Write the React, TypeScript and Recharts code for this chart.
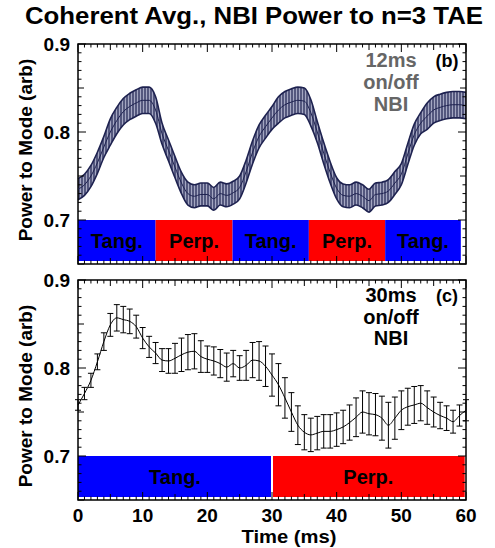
import { ComposedChart, Area, Line, ErrorBar, XAxis, YAxis, ReferenceArea, ReferenceLine } from 'recharts'

const FONT = '"Liberation Sans", Arial, Helvetica, sans-serif'
const NAVY = '#1e2250'
const BLUE = '#0000ff'
const RED = '#ff0000'

const PLOT_W = 388
const PLOT_H = 220

// time axis (ms) and tick positions
const times = Array.from({ length: 61 }, (_, i) => i)
const xTicks = Array.from({ length: 61 }, (_, i) => i)
const xLabels = [0, 10, 20, 30, 40, 50, 60]
const yTicks = Array.from({ length: 26 }, (_, i) => +(0.65 + i * 0.01).toFixed(2))
const yLabels = [0.7, 0.8, 0.9]

// panel (b): 12ms on/off
const topMid = [
  0.735, 0.74, 0.75, 0.765, 0.783, 0.8, 0.813, 0.823, 0.829, 0.833,
  0.836, 0.836, 0.825, 0.798, 0.779, 0.76, 0.742, 0.73, 0.727, 0.729,
  0.729, 0.724, 0.73, 0.728, 0.731, 0.737, 0.755, 0.777, 0.795, 0.806,
  0.816, 0.825, 0.831, 0.834, 0.836, 0.835, 0.822, 0.8, 0.776, 0.754,
  0.736, 0.728, 0.727, 0.73, 0.727, 0.722, 0.729, 0.73, 0.733, 0.742,
  0.752, 0.775, 0.797, 0.81, 0.818, 0.825, 0.828, 0.83, 0.831, 0.831,
  0.83,
]
const topErr = [
  0.012, 0.012, 0.012, 0.012, 0.012, 0.015, 0.015, 0.015, 0.015, 0.015,
  0.015, 0.015, 0.015, 0.012, 0.012, 0.012, 0.012, 0.013, 0.013, 0.013,
  0.013, 0.013, 0.013, 0.013, 0.013, 0.013, 0.013, 0.013, 0.013, 0.013,
  0.013, 0.015, 0.015, 0.015, 0.015, 0.015, 0.015, 0.012, 0.012, 0.012,
  0.012, 0.013, 0.013, 0.013, 0.013, 0.013, 0.013, 0.013, 0.013, 0.013,
  0.012, 0.012, 0.012, 0.012, 0.015, 0.015, 0.015, 0.015, 0.015, 0.015,
  0.015,
]
const topBeams = [
  { from: 0, to: 12, name: 'Tang.', color: BLUE },
  { from: 12, to: 23.9, name: 'Perp.', color: RED },
  { from: 23.9, to: 35.7, name: 'Tang.', color: BLUE },
  { from: 35.7, to: 47.5, name: 'Perp.', color: RED },
  { from: 47.5, to: 59.2, name: 'Tang.', color: BLUE },
]

// panel (c): 30ms on/off
const botMid = [
  0.758, 0.771, 0.786, 0.807, 0.83, 0.849, 0.857, 0.855, 0.853, 0.847,
  0.834, 0.824, 0.817, 0.809, 0.808, 0.811, 0.815, 0.818, 0.819, 0.813,
  0.81, 0.808, 0.805, 0.801, 0.805, 0.8, 0.803, 0.809, 0.808, 0.802,
  0.792, 0.781, 0.766, 0.75, 0.735, 0.727, 0.724, 0.726, 0.728, 0.728,
  0.73, 0.733, 0.738, 0.744, 0.75, 0.748, 0.747, 0.743, 0.735, 0.743,
  0.752, 0.756, 0.758, 0.76, 0.755, 0.75, 0.746, 0.743, 0.739, 0.746,
  0.752,
]
const botErr = [
  0.006, 0.007, 0.008, 0.009, 0.01, 0.013, 0.015, 0.015, 0.014, 0.013,
  0.012, 0.012, 0.012, 0.013, 0.014, 0.017, 0.019, 0.02, 0.02, 0.018,
  0.015, 0.016, 0.016, 0.016, 0.015, 0.014, 0.017, 0.02, 0.022, 0.023,
  0.024, 0.024, 0.023, 0.022, 0.022, 0.02, 0.019, 0.019, 0.019, 0.019,
  0.019, 0.019, 0.02, 0.022, 0.024, 0.024, 0.024, 0.025, 0.026, 0.024,
  0.022, 0.021, 0.021, 0.02, 0.019, 0.017, 0.015, 0.014, 0.013, 0.012,
  0.012,
]
const botBeams = [
  { from: 0, to: 30, name: 'Tang.', color: BLUE },
  { from: 30, to: 59.8, name: 'Perp.', color: RED },
]

const topData = times.map((t, i) => ({
  t,
  mid: topMid[i],
  band: [topMid[i] - topErr[i], topMid[i] + topErr[i]],
}))
const botData = times.map((t, i) => ({ t, mid: botMid[i], err: botErr[i] }))

function yLen(v: number) {
  const k = Math.round(v * 100)
  if (k % 10 === 0) return 8
  if (k % 5 === 0) return 6
  return 3.5
}
function xLen(v: number) {
  const k = Math.round(v)
  if (k % 10 === 0) return 8
  if (k % 5 === 0) return 6
  return 3.5
}

function LeftTick({ x, y, payload }: any) {
  const v = payload.value
  const len = yLen(v)
  const lab = yLabels.some((l) => Math.abs(l - v) < 1e-6)
  return (
    <g>
      <line x1={x} x2={x + len} y1={y} y2={y} stroke="#000" strokeWidth={1} />
      <line x1={x + PLOT_W} x2={x + PLOT_W - len} y1={y} y2={y} stroke="#000" strokeWidth={1} />
      {lab && (
        <text x={x - 8} y={y + 7} textAnchor="end" fontSize={19} fontWeight="bold" fill="#000" fontFamily={FONT}>
          {v.toFixed(1)}
        </text>
      )}
    </g>
  )
}

function makeBottomTick(showLabels: boolean) {
  return function BottomTick({ x, y, payload }: any) {
    const v = payload.value
    const len = xLen(v)
    return (
      <g>
        <line x1={x} x2={x} y1={y} y2={y - len} stroke="#000" strokeWidth={1} />
        <line x1={x} x2={x} y1={y - PLOT_H} y2={y - PLOT_H + len} stroke="#000" strokeWidth={1} />
        {showLabels && xLabels.includes(v) && (
          <text x={x} y={y + 22} textAnchor="middle" fontSize={19} fontWeight="bold" fill="#000" fontFamily={FONT}>
            {v}
          </text>
        )}
      </g>
    )
  }
}

const beamLabel = (name: string) => ({
  value: name,
  position: 'center' as const,
  fontSize: 20,
  fontWeight: 'bold',
  fill: '#000',
  fontFamily: FONT,
})

const TopTick = makeBottomTick(false)
const BotTick = makeBottomTick(true)

export default function App() {
  return (
    <div style={{ position: 'absolute', left: 0, top: 0, width: 495, height: 548, background: '#fff', fontFamily: FONT }}>
      <div style={{ position: 'absolute', left: 0, top: 0 }}>
        <ComposedChart width={495} height={270} data={topData} margin={{ top: 44, left: 0, right: 29, bottom: 0 }}>
          <defs>
            <pattern id="hatch" width="3" height="10" patternUnits="userSpaceOnUse">
              <rect width="3" height="10" fill="#a4a7c2" />
              <line x1="1" y1="0" x2="1" y2="10" stroke={NAVY} strokeWidth="1.2" />
            </pattern>
          </defs>
          <XAxis dataKey="t" type="number" domain={[0, 60]} ticks={xTicks} interval={0} height={6}
            tickSize={0} tickMargin={0} tickLine={false} axisLine={false} tick={(p: any) => <TopTick {...p} />} />
          <YAxis type="number" domain={[0.65, 0.9]} ticks={yTicks} interval={0} width={78} allowDataOverflow
            tickSize={0} tickMargin={0} tickLine={false} axisLine={false} tick={(p: any) => <LeftTick {...p} />} />
          {topBeams.map((b, i) => (
            <ReferenceArea key={i} x1={b.from} x2={b.to} y1={0.6535} y2={0.7} fill={b.color} fillOpacity={1}
              stroke="none" label={beamLabel(b.name)} />
          ))}
          <Area dataKey="band" type="monotone" stroke={NAVY} strokeWidth={1.6} fill="url(#hatch)" fillOpacity={1}
            isAnimationActive={false} dot={false} activeDot={false} />
          <Line dataKey="mid" type="monotone" stroke={NAVY} strokeWidth={1} dot={false} activeDot={false}
            isAnimationActive={false} />
          <ReferenceArea x1={0} x2={60} y1={0.65} y2={0.9} fill="none" stroke="#000" strokeWidth={1.5} />
        </ComposedChart>
      </div>
      <div style={{ position: 'absolute', left: 0, top: 270 }}>
        <ComposedChart width={495} height={278} data={botData} margin={{ top: 10, left: 0, right: 29, bottom: 0 }}>
          <XAxis dataKey="t" type="number" domain={[0, 60]} ticks={xTicks} interval={0} height={48}
            tickSize={0} tickMargin={0} tickLine={false} axisLine={false} tick={(p: any) => <BotTick {...p} />} />
          <YAxis type="number" domain={[0.65, 0.9]} ticks={yTicks} interval={0} width={78} allowDataOverflow
            tickSize={0} tickMargin={0} tickLine={false} axisLine={false} tick={(p: any) => <LeftTick {...p} />} />
          {botBeams.map((b, i) => (
            <ReferenceArea key={i} x1={b.from} x2={b.to} y1={0.6535} y2={0.7} fill={b.color} fillOpacity={1}
              stroke="none" label={beamLabel(b.name)} />
          ))}
          <ReferenceLine segment={[{ x: 30, y: 0.6535 }, { x: 30, y: 0.7 }]} stroke="#fff" strokeWidth={2} />
          <Line dataKey="mid" type="monotone" stroke="#000" strokeWidth={1} dot={false} activeDot={false}
            isAnimationActive={false}>
            <ErrorBar dataKey="err" width={3} stroke="#000" strokeWidth={1} direction="y" />
          </Line>
          <ReferenceArea x1={0} x2={60} y1={0.65} y2={0.9} fill="none" stroke="#000" strokeWidth={1.5} />
        </ComposedChart>
      </div>
      <svg width={495} height={548} style={{ position: 'absolute', left: 0, top: 0, pointerEvents: 'none' }}
        fontFamily={FONT} fontWeight="bold">
        <text x={254} y={24} textAnchor="middle" fontSize={24} fill="#000" textLength={458} lengthAdjust="spacingAndGlyphs">
          Coherent Avg., NBI Power to n=3 TAE
        </text>
        <text x={32} y={150} textAnchor="middle" fontSize={19} fill="#000" transform="rotate(-90, 32, 150)">
          Power to Mode (arb)
        </text>
        <text x={32} y={396} textAnchor="middle" fontSize={19} fill="#000" transform="rotate(-90, 32, 396)">
          Power to Mode (arb)
        </text>
        <text x={289} y={543} textAnchor="middle" fontSize={19} fill="#000" textLength={95} lengthAdjust="spacingAndGlyphs">
          Time (ms)
        </text>
        <g fill="#666" fontSize={20} textAnchor="middle">
          <text x={391} y={67}>12ms</text>
          <text x={391} y={89}>on/off</text>
          <text x={391} y={111}>NBI</text>
        </g>
        <text x={447} y={67} textAnchor="middle" fontSize={18} fill="#000">(b)</text>
        <g fill="#000" fontSize={20} textAnchor="middle">
          <text x={391} y={302}>30ms</text>
          <text x={391} y={324}>on/off</text>
          <text x={391} y={345}>NBI</text>
        </g>
        <text x={447} y={302} textAnchor="middle" fontSize={18} fill="#000">(c)</text>
      </svg>
    </div>
  )
}
